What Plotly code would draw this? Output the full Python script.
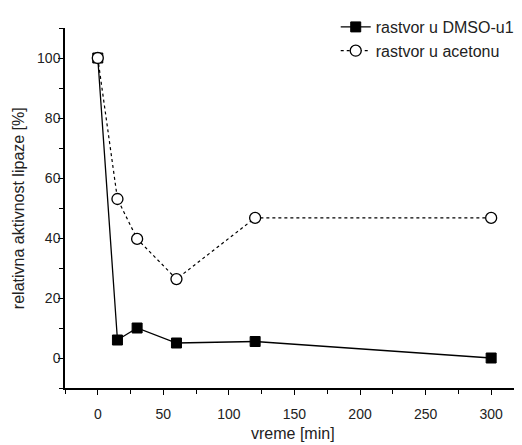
import plotly.graph_objects as go

time_min = [0, 15, 30, 60, 120, 300]
dmso = [100, 6, 10, 5, 5.5, 0]
acetone = [100, 53, 39.7, 26.3, 46.7, 46.7]
series_names = ["rastvor u DMSO-u1", "rastvor u acetonu"]
x_ticks = [0, 50, 100, 150, 200, 250, 300]
y_ticks = [0, 20, 40, 60, 80, 100]
x_title = "vreme [min]"
y_title = "relativna aktivnost lipaze [%]"

font_family = "Liberation Sans, Arial, sans-serif"

fig = go.Figure()
fig.add_trace(go.Scatter(
    x=time_min, y=dmso, name=series_names[0], mode="lines+markers",
    line=dict(color="black", width=1.3),
    marker=dict(symbol="square", size=10, color="black", line=dict(color="black", width=1)),
))
fig.add_trace(go.Scatter(
    x=time_min, y=acetone, name=series_names[1], mode="lines+markers",
    line=dict(color="black", width=1.2, dash="dot"),
    marker=dict(symbol="circle", size=11, color="white", line=dict(color="black", width=1.3)),
))

# the page body has an 8 px margin, so the figure is offset by (8, 8)
fig.update_layout(
    width=514, height=437,
    margin=dict(l=57, r=2, t=8, b=57),
    paper_bgcolor="white", plot_bgcolor="white",
    font=dict(family=font_family, size=15, color="#222"),
    legend=dict(x=0.595, y=1.05, xanchor="left", yanchor="top",
                bgcolor="rgba(0,0,0,0)", font=dict(size=16),
                tracegroupgap=0, itemwidth=30),
    showlegend=True,
    annotations=[
        dict(text=x_title, xref="paper", yref="paper", x=0.5, y=-0.126,
             xanchor="center", yanchor="middle", showarrow=False, font=dict(size=16)),
        dict(text=y_title, xref="paper", yref="paper", x=-0.103, y=0.5,
             xanchor="center", yanchor="middle", showarrow=False, textangle=-90,
             font=dict(size=16)),
    ],
)
fig.update_xaxes(
    range=[-25, 322], tickmode="array", tickvals=x_ticks, automargin=False,
    showline=True, linecolor="black", linewidth=1.5,
    ticks="outside", ticklen=5, tickwidth=1.2, tickcolor="black",
    minor=dict(ticks="outside", ticklen=4, dtick=25, tick0=-25, tickcolor="black", tickwidth=1.2),
    showgrid=False, zeroline=False, tickfont=dict(size=14),
    ticklabelstandoff=7,
)
fig.update_yaxes(
    range=[-10, 110], tickmode="array", tickvals=y_ticks, automargin=False,
    showline=True, linecolor="black", linewidth=1.5,
    ticks="outside", ticklen=5, tickwidth=1.2, tickcolor="black",
    minor=dict(ticks="outside", ticklen=4, dtick=10, tick0=-10, tickcolor="black", tickwidth=1.2),
    showgrid=False, zeroline=False, tickfont=dict(size=14),
    ticklabelstandoff=-5,
)

fig.write_html("out.html")
